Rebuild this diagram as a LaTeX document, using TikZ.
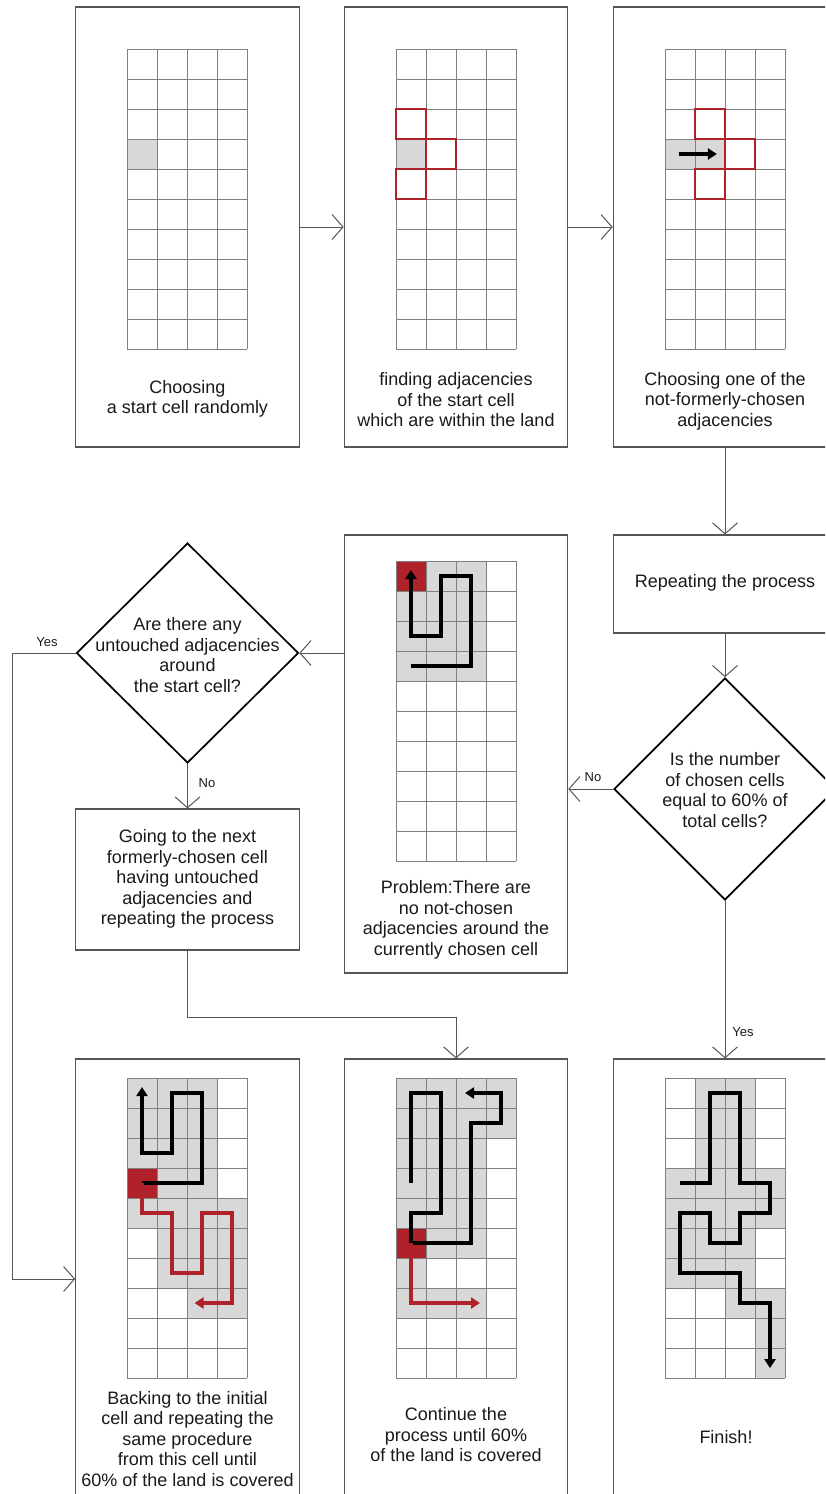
\documentclass[tikz,border=0pt]{standalone}
\usepackage{fontspec}
\setmainfont{Liberation Sans}
\usetikzlibrary{arrows.meta,shapes.geometric}
\definecolor{boxline}{HTML}{555555}
\definecolor{gridline}{HTML}{808080}
\definecolor{cellgray}{HTML}{D8D8D8}
\definecolor{landred}{HTML}{B0222A}
\definecolor{txt}{HTML}{1A1A1A}
\newcommand\landgrid{%
  \foreach \gi in {0,...,4} {\draw[gline] (\gi,0) -- (\gi,10);}
  \foreach \gj in {0,...,10} {\draw[gline] (0,\gj) -- (4,\gj);}
}
\tikzset{
  stepbox/.style={draw=boxline, line width=1.1pt, minimum width=223.5pt, inner sep=0pt},
  decision/.style={diamond, draw=black, line width=1.7pt, aspect=1, inner sep=0pt, minimum width=222pt, minimum height=222pt},
  lbl/.style={font=\fontsize{18}{20.5}\selectfont, text=txt, align=center, inner sep=0pt},
  small/.style={font=\fontsize{13}{15}\selectfont, text=txt, inner sep=0pt},
  conn/.style={draw=boxline, line width=1pt, -{Straight Barb[length=11pt,width=25pt]}},
  gline/.style={draw=gridline, line width=1pt},
  redbox/.style={draw=landred, line width=2.2pt},
  walk/.style={line width=3.2pt, -{Triangle[length=9pt,width=11pt]}},
  gcell/.style={fill=cellgray},
  rcell/.style={fill=landred},
}
\begin{document}
\begin{tikzpicture}[x=1pt, y=-1pt]
\useasboundingbox (0,0) rectangle (825,1494);
\clip (0,0) rectangle (825,1494);
\fill[white] (0,0) rectangle (825,1494);

% ---------- boxes ----------
\node[stepbox, minimum height=440pt] (b1) at (187.5,227) {};
\node[stepbox, minimum height=440pt] (b2) at (456,227) {};
\node[stepbox, minimum height=440pt] (b3) at (725,227) {};
\node[stepbox, minimum height=98pt] (b4) at (725,584) {};
\node[decision] (d2) at (725,789) {};
\node[decision, minimum height=220pt] (d1) at (187.5,653) {};
\node[stepbox, minimum height=438pt] (b5) at (456,754) {};
\node[stepbox, minimum height=141pt] (b6) at (187.5,879.5) {};
\node[stepbox, minimum height=448pt] (b7) at (187.5,1283) {};
\node[stepbox, minimum height=448pt] (b8) at (456,1283) {};
\node[stepbox, minimum height=448pt] (b9) at (725,1283) {};

% ---------- texts ----------
\node[lbl] (t1) at (187.5,399) {Choosing\\a start cell randomly};
\node[lbl] (t2) at (456,400) {finding adjacencies\\of the start cell\\which are within the land};
\node[lbl] (t3) at (725,401) {Choosing one of the\\not-formerly-chosen\\adjacencies};
\node[lbl] (t4) at (725,583) {Repeating the process};
\node[lbl] (td2) at (725,790) {Is the number\\of chosen cells\\equal to 60\% of\\total cells?};
\node[lbl] (td1) at (187.5,655) {Are there any\\untouched adjacencies\\around\\the start cell?};
\node[lbl] (t5) at (456,920) {Problem:There are\\no not-chosen\\adjacencies around the\\currently chosen cell};
\node[lbl] (t6) at (187.5,879) {Going to the next\\formerly-chosen cell\\having untouched\\adjacencies and\\repeating the process};
\node[lbl] (t7) at (187.5,1439) {Backing to the initial\\cell and repeating the\\same procedure\\from this cell until\\60\% of the land is covered};
\node[lbl] (t8) at (456,1435) {Continue the\\process until 60\%\\of the land is covered};
\node[lbl] (t9) at (726,1437) {Finish!};

% ---------- connectors ----------
\draw[conn] (b1) -- (b2);
\draw[conn] (b2) -- (b3);
\draw[conn] (b3) -- (b4);
\draw[conn] (b4) -- (d2);
\draw[conn] (d2.west) -- (d2.west -| b5.east);
\draw[conn] (b5.west |- d1.east) -- (d1.east);
\draw[conn] (d1) -- (b6);
\coordinate (yc) at (12,1279);
\draw[conn] (d1.west) -| (yc) -- (yc -| b7.west);
\draw[conn] (b6.south) -- ++(0,67) -| (b8.north);
\draw[conn] (d2) -- (b9);

\node[small] (lyes1) at (47,642) {Yes};
\node[small] (lno1) at (207,783) {No};
\node[small] (lno2) at (593,777) {No};
\node[small] (lyes2) at (743,1032) {Yes};

% ---------- grid 1 ----------
\begin{scope}[shift={(127,49)}, x=30pt, y=-30pt]
  \fill[gcell] (0,3) rectangle (1,4);
  \landgrid
\end{scope}
% ---------- grid 2 ----------
\begin{scope}[shift={(396,49)}, x=30pt, y=-30pt]
  \fill[gcell] (0,3) rectangle (1,4);
  \landgrid
  \draw[redbox] (0,2) rectangle (1,3) (1,3) rectangle (2,4) (0,4) rectangle (1,5);
\end{scope}
% ---------- grid 3 ----------
\begin{scope}[shift={(665,49)}, x=30pt, y=-30pt]
  \fill[gcell] (0,3) rectangle (2,4);
  \landgrid
  \draw[redbox] (1,2) rectangle (2,3) (2,3) rectangle (3,4) (1,4) rectangle (2,5);
  \draw[walk] (0.45,3.5) -- (1.73,3.5);
\end{scope}
% ---------- grid 5 (problem) ----------
\begin{scope}[shift={(396,561)}, x=30pt, y=-30pt]
  \fill[gcell] (0,0) rectangle (3,4);
  \fill[rcell] (0,0) rectangle (1,1);
  \landgrid
  \draw[walk] (0.5,3.5) -- (2.5,3.5) -- (2.5,0.5) -- (1.5,0.5) -- (1.5,2.5) -- (0.5,2.5) -- (0.5,0.3);
\end{scope}
% ---------- grid 7 ----------
\begin{scope}[shift={(127,1078)}, x=30pt, y=-30pt]
  \fill[gcell] (0,0) rectangle (3,4) (0,4) rectangle (4,5) (1,5) rectangle (4,7) (2,7) rectangle (4,8);
  \fill[rcell] (0,3) rectangle (1,4);
  \landgrid
  \draw[walk] (0.5,3.5) -- (2.5,3.5) -- (2.5,0.5) -- (1.5,0.5) -- (1.5,2.5) -- (0.5,2.5) -- (0.5,0.3);
  \draw[walk, landred] (0.5,3.5) -- (0.5,4.5) -- (1.5,4.5) -- (1.5,6.5) -- (2.5,6.5) -- (2.5,4.5) -- (3.5,4.5) -- (3.5,7.5) -- (2.25,7.5);
\end{scope}
% ---------- grid 8 ----------
\begin{scope}[shift={(396,1078)}, x=30pt, y=-30pt]
  \fill[gcell] (0,0) rectangle (4,2) (0,2) rectangle (3,6) (0,6) rectangle (1,7) (0,7) rectangle (3,8);
  \fill[rcell] (0,5) rectangle (1,6);
  \landgrid
  \draw[walk] (0.5,3.5) -- (0.5,0.5) -- (1.5,0.5) -- (1.5,4.5) -- (0.5,4.5) -- (0.5,5.5) -- (2.5,5.5) -- (2.5,1.5) -- (3.5,1.5) -- (3.5,0.5) -- (2.3,0.5);
  \draw[walk, landred] (0.5,5.5) -- (0.5,7.5) -- (2.8,7.5);
\end{scope}
% ---------- grid 9 ----------
\begin{scope}[shift={(665,1078)}, x=30pt, y=-30pt]
  \fill[gcell] (1,0) rectangle (3,3) (0,3) rectangle (4,5) (0,5) rectangle (3,7) (2,7) rectangle (4,8) (3,8) rectangle (4,10);
  \landgrid
  \draw[walk] (0.5,3.5) -- (1.5,3.5) -- (1.5,0.5) -- (2.5,0.5) -- (2.5,3.5) -- (3.5,3.5) -- (3.5,4.5) -- (2.5,4.5) -- (2.5,5.5) -- (1.5,5.5) -- (1.5,4.5) -- (0.5,4.5) -- (0.5,6.5) -- (2.5,6.5) -- (2.5,7.5) -- (3.5,7.5) -- (3.5,9.67);
\end{scope}
\end{tikzpicture}
\end{document}
